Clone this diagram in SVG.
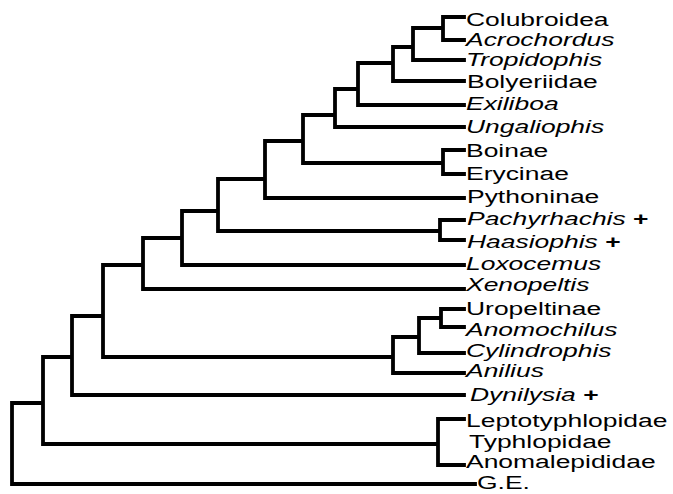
<svg xmlns="http://www.w3.org/2000/svg" width="673" height="494" viewBox="0 0 673 494">
<style>
.e{stroke:#000;stroke-width:3.8;fill:none;stroke-linecap:square;stroke-linejoin:miter}
.t{font-family:"Liberation Sans",Arial,sans-serif;font-size:18px;fill:#000}
.i{font-style:italic}
.p{font-style:normal;font-weight:bold}
</style>
<rect width="673" height="494" fill="#fff"/>
<g id="connectors" class="e">
<path d="M464,17H443V40H464M443,28H413V60H464M413,47H393V81H464M393,63H358V105H464M358,89H335V127H464M335,115H303V163H443M464,150H443V174H464M303,141H265V198H464M265,179H218V231H440M464,220H440V240H464M218,211H182V265H464M182,238H143V289H464M143,265H103V357H393M464,309H441V327H464M441,318H419V353H464M419,337H393V373H464M103,316H72V395H464M72,357H43V444H438M464,419H438V465H464M43,403H12V484H475"/>
</g>
<g id="n-colubroidea"><text class="t" transform="translate(466,26) scale(1.47 1)">Colubroidea</text></g>
<g id="n-acrochordus"><text class="t i" transform="translate(466,46) scale(1.47 1)">Acrochordus</text></g>
<g id="n-tropidophis"><text class="t i" transform="translate(466,66) scale(1.47 1)">Tropidophis</text></g>
<g id="n-bolyeriidae"><text class="t" transform="translate(467,88) scale(1.47 1)">Bolyeriidae</text></g>
<g id="n-exiliboa"><text class="t i" transform="translate(466,110) scale(1.47 1)">Exiliboa</text></g>
<g id="n-ungaliophis"><text class="t i" transform="translate(466,133) scale(1.47 1)">Ungaliophis</text></g>
<g id="n-boinae"><text class="t" transform="translate(466,157) scale(1.47 1)">Boinae</text></g>
<g id="n-erycinae"><text class="t" transform="translate(466,180) scale(1.47 1)">Erycinae</text></g>
<g id="n-pythoninae"><text class="t" transform="translate(467,203) scale(1.47 1)">Pythoninae</text></g>
<g id="n-pachyrhachis"><text class="t i" transform="translate(467,225) scale(1.47 1)">Pachyrhachis <tspan class="p">+</tspan></text></g>
<g id="n-haasiophis"><text class="t i" transform="translate(467,248) scale(1.47 1)">Haasiophis <tspan class="p">+</tspan></text></g>
<g id="n-loxocemus"><text class="t i" transform="translate(466,270) scale(1.47 1)">Loxocemus</text></g>
<g id="n-xenopeltis"><text class="t i" transform="translate(466,291) scale(1.47 1)">Xenopeltis</text></g>
<g id="n-uropeltinae"><text class="t" transform="translate(466,315) scale(1.47 1)">Uropeltinae</text></g>
<g id="n-anomochilus"><text class="t i" transform="translate(466,336) scale(1.47 1)">Anomochilus</text></g>
<g id="n-cylindrophis"><text class="t i" transform="translate(466,357) scale(1.47 1)">Cylindrophis</text></g>
<g id="n-anilius"><text class="t i" transform="translate(466,377) scale(1.47 1)">Anilius</text></g>
<g id="n-dynilysia"><text class="t i" transform="translate(470,401) scale(1.47 1)">Dynilysia <tspan class="p">+</tspan></text></g>
<g id="n-leptotyphlopidae"><text class="t" transform="translate(466,427) scale(1.47 1)">Leptotyphlopidae</text></g>
<g id="n-typhlopidae"><text class="t" transform="translate(469,448) scale(1.47 1)">Typhlopidae</text></g>
<g id="n-anomalepididae"><text class="t" transform="translate(466,468) scale(1.47 1)">Anomalepididae</text></g>
<g id="n-ge"><text class="t" transform="translate(477,489) scale(1.47 1)">G.E.</text></g>
</svg>
